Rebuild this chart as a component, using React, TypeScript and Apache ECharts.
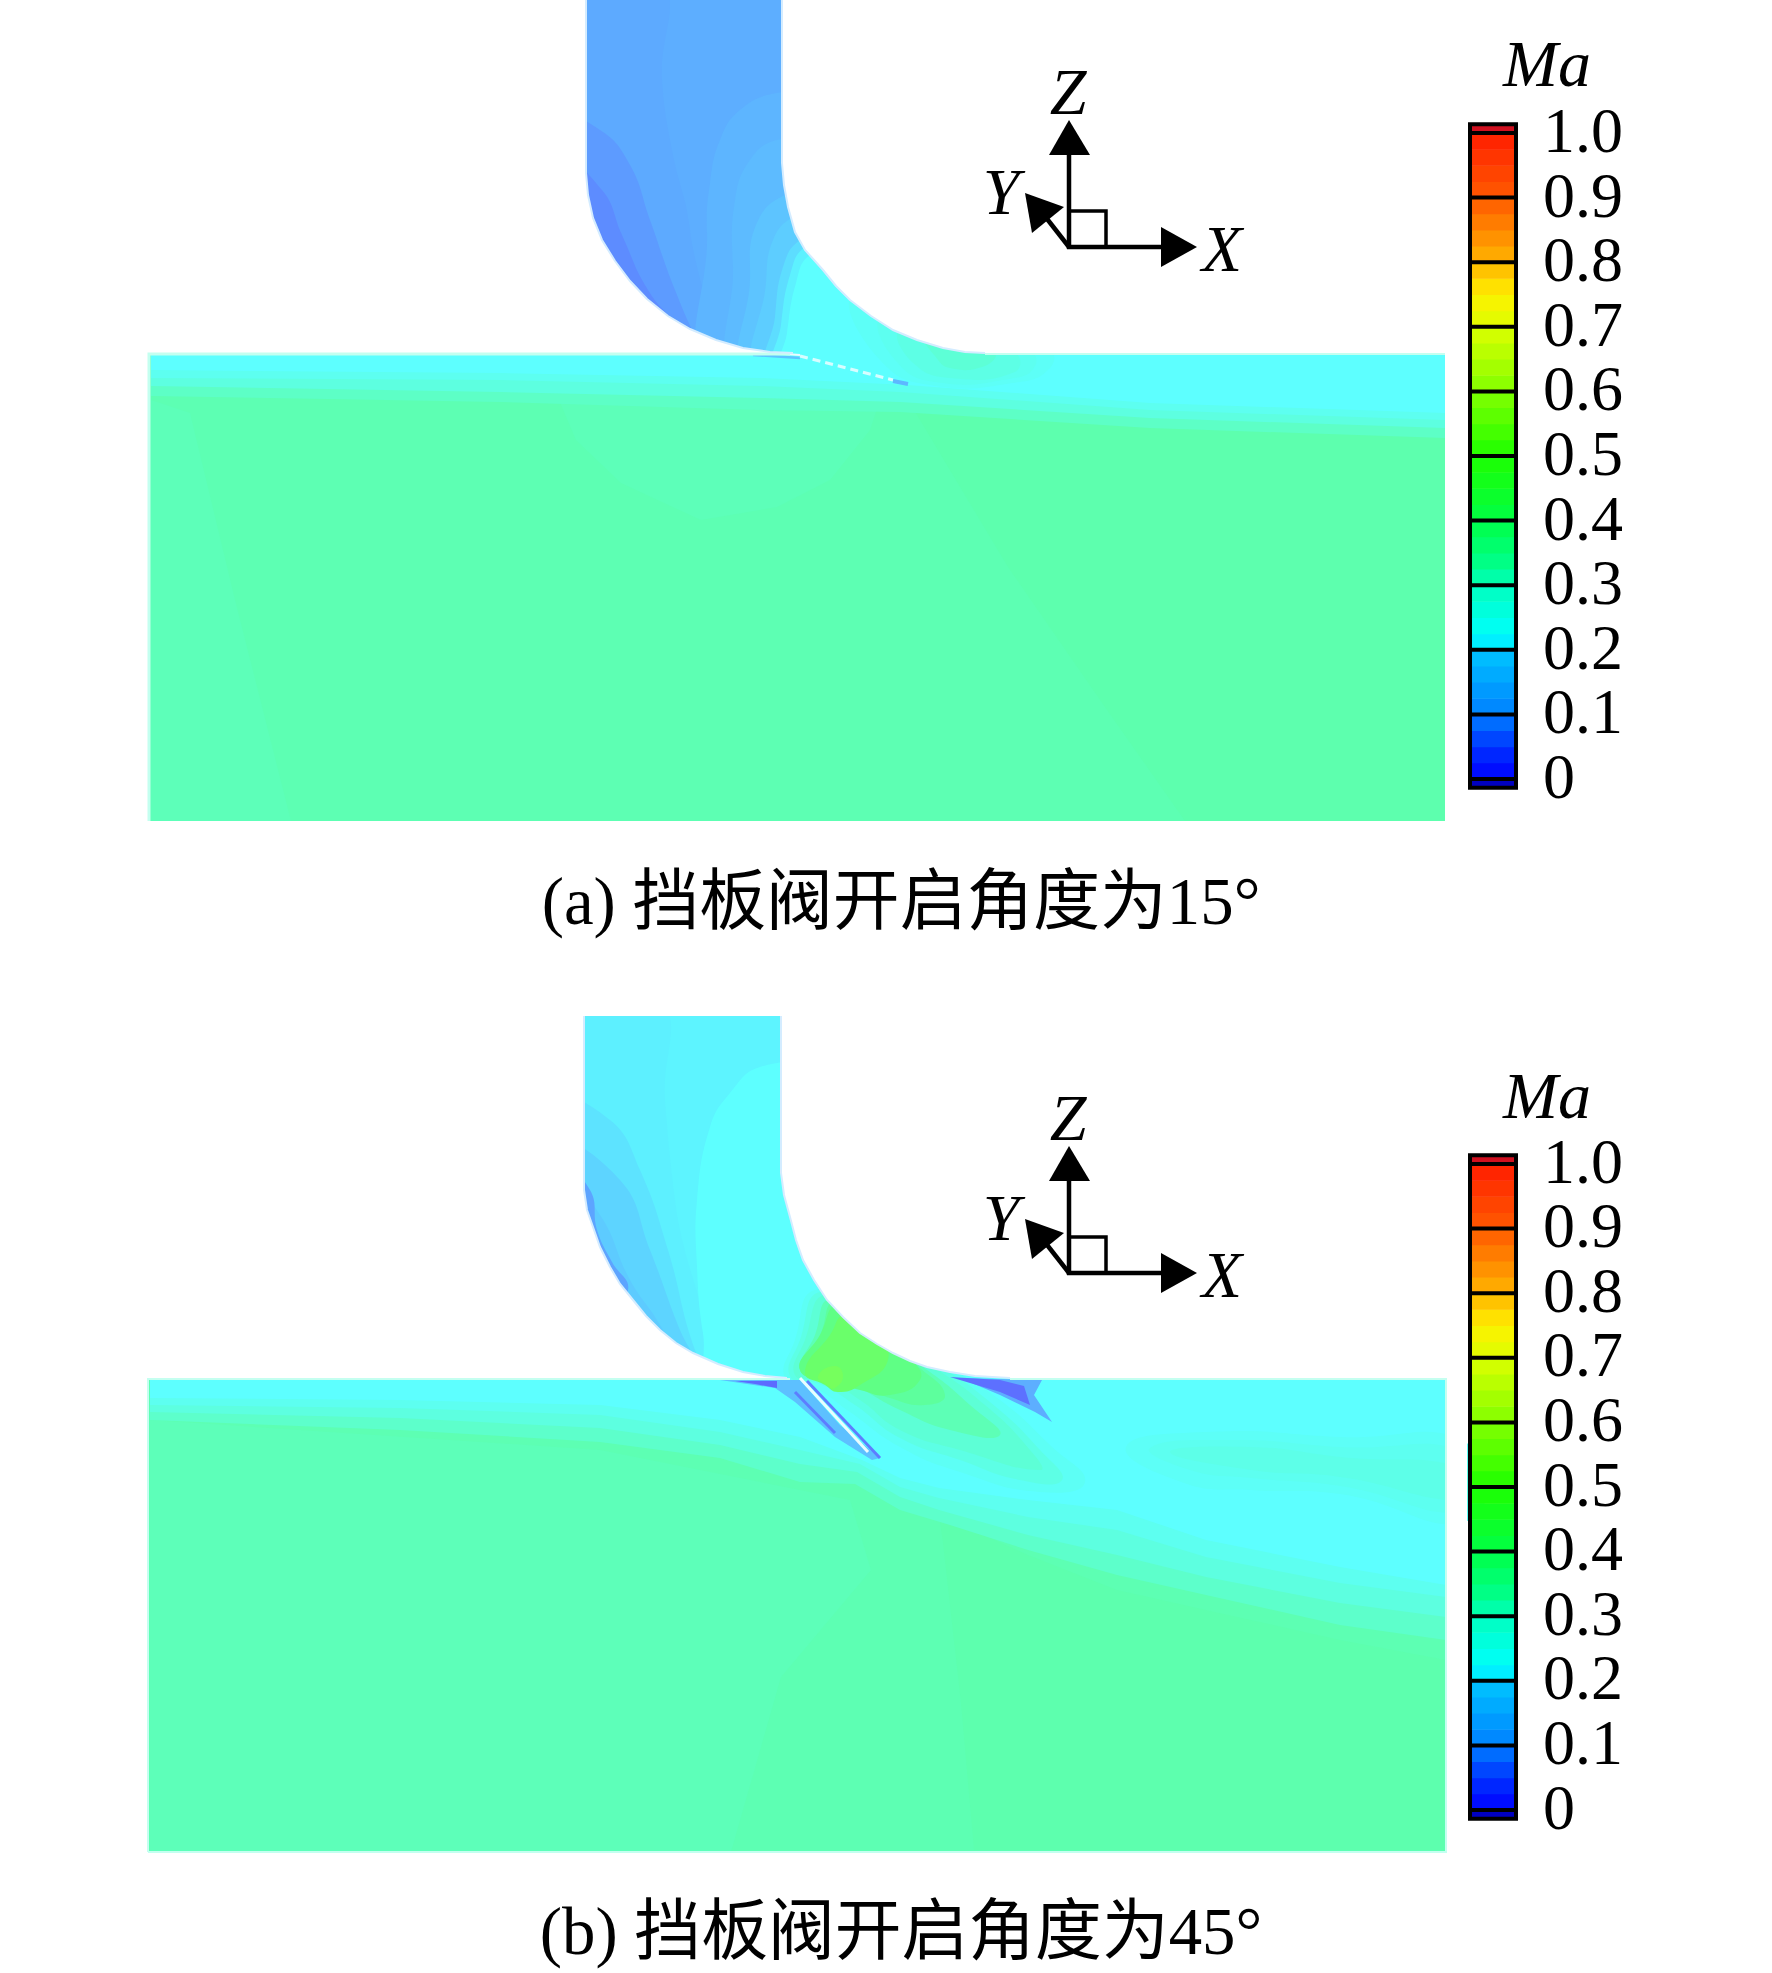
import React, { useEffect, useRef } from "react";
import * as echarts from "echarts";

type Pt = [number, number];
type Band = [number, Pt[]];

// ---------- tick labels and colour scale ----------
const maTickValues = [0, 0.1, 0.2, 0.3, 0.4, 0.5, 0.6, 0.7, 0.8, 0.9, 1.0];
const maTickLabels = ["0", "0.1", "0.2", "0.3", "0.4", "0.5", "0.6", "0.7", "0.8", "0.9", "1.0"];
const rampStops: [number, number, number, number][] = [
  [0, 0, 0, 255], [0.05, 0, 50, 255], [0.1, 0, 128, 255], [0.19, 0, 190, 255], [0.22, 0, 255, 255],
  [0.3, 0, 255, 190], [0.33, 0, 255, 140], [0.4, 0, 255, 70], [0.5, 30, 255, 0], [0.6, 130, 255, 0],
  [0.7, 220, 255, 0], [0.75, 255, 240, 0], [0.8, 255, 180, 0], [0.9, 255, 90, 0], [1, 255, 30, 0],
];
const barCellEdges = [
  0, 0.025, 0.05, 0.075, 0.1, 0.125, 0.15, 0.175, 0.2, 0.225, 0.25, 0.275, 0.3, 0.325, 0.35, 0.375, 0.4, 0.425,
  0.45, 0.475, 0.5, 0.525, 0.55, 0.575, 0.6, 0.625, 0.65, 0.675, 0.7, 0.725, 0.75, 0.775, 0.8, 0.825, 0.85, 0.875,
  0.9, 0.925, 0.95, 0.975, 1,
];
const barOverUnder: [number, number, string][] = [
  [-0.0135, 0, "#0000c0"],
  [1, 1.0135, "#d01020"],
];

// ---------- panel (a): valve at 15 degrees ----------
const ductLeftA: Pt[] = [[586, 0], [586, 173], [588, 195], [593, 218], [602, 240], [615, 261], [630, 281], [647, 299], [668, 316], [690, 329], [716, 340], [743, 348], [770, 352], [793, 353]];
const ductRightA: Pt[] = [[782, 0], [782, 163], [784, 185], [788, 207], [795, 232], [805, 250], [823, 270], [836, 286], [850, 300], [871, 316], [893, 330], [917, 340], [943, 348], [965, 352], [985, 353]];
const ductBaseA: Band[] = [[0.1, [[570, 0], [800, 0], [800, 356], [570, 356]]]];
const ductBandsA: Band[] = [
  [0.096, [[560, -20], [660, -20], [662, 80], [672, 150], [690, 230], [700, 375], [560, 375]]],
  [0.08, [[560, 120], [600, 130], [630, 165], [650, 220], [675, 290], [700, 345], [725, 385], [560, 385]]],
  [0.065, [[560, 160], [602, 190], [622, 235], [648, 290], [678, 325], [705, 352], [720, 385], [560, 385]]],
  [0.115, [[830, 93], [777, 93], [740, 110], [720, 140], [710, 183], [707, 233], [717, 375], [1000, 375], [1000, 93]]],
  [0.13, [[830, 140], [777, 140], [750, 160], [735, 200], [733, 267], [742, 375], [1000, 375], [1000, 140]]],
  [0.15, [[830, 190], [785, 195], [756, 225], [750, 280], [752, 375], [1000, 375], [1000, 190]]],
  [0.17, [[830, 205], [793, 217], [773, 240], [766, 283], [763, 375], [1000, 375], [1000, 205]]],
  [0.195, [[840, 225], [800, 240], [783, 267], [775, 317], [771, 375], [1000, 375], [1000, 225]]],
  [0.21, [[850, 232], [805, 247], [790, 275], [781, 325], [777, 375], [1000, 375], [1000, 232]]],
  [0.22, [[860, 238], [810, 255], [796, 283], [787, 333], [783, 375], [1000, 375], [1000, 238]]],
];
const panelBaseA: Band[] = [[0.335, [[148, 354], [1445, 354], [1445, 821], [148, 821]]]];
const zonesA: Band[] = [
  [0.327, [[151, 400], [190, 413], [235, 600], [291, 821], [151, 821]]],
  [0.327, [[559, 400], [576, 440], [621, 483], [701, 520], [777, 507], [830, 480], [870, 430], [880, 400]]],
  [0.342, [[908, 400], [1008, 567], [1100, 700], [1185, 821], [1445, 821], [1445, 400]]],
];
const topBandsA: Band[] = [
  [0.315, [[151, 354], [1445, 354], [1445, 438], [1150, 428], [900, 412], [760, 410], [500, 402], [151, 396]]],
  [0.28, [[151, 354], [1445, 354], [1445, 428], [1150, 418], [900, 402], [760, 398], [500, 392], [151, 386]]],
  [0.25, [[151, 354], [1445, 354], [1445, 420], [1150, 410], [900, 392], [760, 386], [500, 380], [151, 378]]],
  [0.22, [[151, 354], [1445, 354], [1445, 413], [1150, 403], [907, 385], [760, 378], [500, 373], [151, 370]]],
];
const jetBandsA: Band[] = [
  [0.235, [[850, 300], [900, 328], [960, 348], [1050, 352], [1050, 368], [1020, 382], [930, 385], [880, 360]]],
  [0.25, [[880, 320], [930, 342], [1030, 352], [1035, 366], [1015, 378], [935, 382], [895, 360]]],
  [0.27, [[900, 332], [960, 350], [1015, 353], [1015, 372], [950, 378], [912, 362]]],
  [0.3, [[925, 338], [965, 350], [995, 353], [985, 366], [950, 368], [935, 356]]],
];

// ---------- panel (b): valve at 45 degrees ----------
const ductLeftB: Pt[] = [[584, 1016], [584, 1190], [587, 1210], [593, 1227], [600, 1247], [610, 1267], [620, 1284], [633, 1300], [646, 1316], [660, 1330], [676, 1343], [693, 1353], [718, 1364], [743, 1372], [765, 1376], [787, 1378]];
const ductRightB: Pt[] = [[781, 1016], [781, 1173], [784, 1195], [790, 1217], [796, 1240], [803, 1260], [814, 1280], [827, 1300], [843, 1317], [860, 1333], [877, 1344], [893, 1353], [910, 1361], [927, 1367], [950, 1372], [975, 1376], [1010, 1378]];
const ductBaseB: Band[] = [[0.212, [[570, 1016], [800, 1016], [800, 1380], [570, 1380]]]];
const ductBandsB: Band[] = [
  [0.209, [[560, 1000], [660, 1000], [665, 1100], [675, 1200], [700, 1395], [560, 1395]]],
  [0.2, [[560, 1105], [610, 1120], [640, 1170], [668, 1250], [695, 1350], [725, 1410], [560, 1410]]],
  [0.185, [[560, 1150], [620, 1180], [650, 1250], [680, 1330], [715, 1410], [560, 1410]]],
  [0.165, [[560, 1175], [600, 1215], [630, 1280], [660, 1325], [705, 1410], [560, 1410]]],
  [0.09, [[560, 1165], [590, 1190], [597, 1230], [612, 1262], [628, 1290], [600, 1330], [560, 1395]]],
  [0.22, [[830, 1062], [760, 1067], [730, 1093], [710, 1127], [697, 1200], [697, 1267], [703, 1333], [717, 1395], [1010, 1395], [1010, 1062]]],
];
const panelBaseB: Band[] = [[0.335, [[147, 1378], [1446, 1378], [1446, 1852], [147, 1852]]]];
const zonesB: Band[] = [
  [0.327, [[150, 1420], [600, 1450], [850, 1500], [871, 1570], [781, 1677], [731, 1852], [150, 1852]]],
  [0.342, [[939, 1515], [1028, 1555], [1117, 1590], [1206, 1610], [1340, 1640], [1446, 1660], [1446, 1850], [974, 1850], [961, 1703], [943, 1543]]],
];
const topBandsB: Band[] = [
  [0.31, [[150, 1378], [1446, 1378], [1446, 1640], [1340, 1625], [1206, 1595], [1117, 1575], [1028, 1550], [950, 1525], [900, 1510], [855, 1484], [800, 1482], [720, 1458], [600, 1442], [400, 1430], [150, 1420]]],
  [0.28, [[150, 1378], [1446, 1378], [1446, 1617], [1340, 1603], [1206, 1577], [1117, 1555], [1028, 1535], [939, 1510], [900, 1497], [857, 1472], [800, 1464], [720, 1445], [600, 1428], [400, 1418], [150, 1412]]],
  [0.25, [[150, 1378], [1446, 1378], [1446, 1597], [1340, 1583], [1206, 1557], [1117, 1530], [1028, 1517], [939, 1498], [900, 1487], [860, 1464], [800, 1450], [720, 1432], [600, 1415], [400, 1408], [150, 1405]]],
  [0.22, [[150, 1378], [1446, 1378], [1446, 1585], [1340, 1567], [1206, 1540], [1117, 1510], [1028, 1500], [939, 1488], [900, 1478], [862, 1460], [800, 1437], [720, 1420], [600, 1405], [400, 1400], [150, 1398]]],
];
const lobesB: Band[] = [
  [0.235, [[1126, 1447], [1206, 1432], [1340, 1437], [1470, 1445], [1470, 1520], [1340, 1494], [1251, 1490], [1184, 1483]]],
  [0.25, [[1150, 1448], [1230, 1440], [1340, 1447], [1470, 1455], [1470, 1510], [1340, 1486], [1251, 1478], [1190, 1470]]],
  [0.265, [[1170, 1452], [1251, 1447], [1340, 1457], [1470, 1470], [1470, 1500], [1340, 1477], [1251, 1470]]],
];
const jetBandsB: Band[] = [
  [0.24, [[785, 1378], [795, 1340], [815, 1290], [870, 1320], [940, 1362], [1000, 1400], [1050, 1445], [1085, 1482], [1040, 1492], [960, 1472], [900, 1447], [850, 1412], [815, 1388]]],
  [0.27, [[790, 1376], [800, 1340], [820, 1292], [870, 1325], [935, 1363], [990, 1402], [1040, 1450], [1062, 1480], [1020, 1480], [960, 1460], [900, 1438], [855, 1405], [820, 1384]]],
  [0.3, [[795, 1375], [805, 1340], [825, 1295], [870, 1330], [930, 1365], [985, 1405], [1030, 1450], [1040, 1470], [960, 1450], [900, 1430], [860, 1400], [825, 1380]]],
  [0.33, [[803, 1368], [815, 1335], [830, 1300], [880, 1340], [930, 1372], [970, 1405], [1000, 1435], [950, 1430], [900, 1410], [860, 1388], [835, 1375]]],
  [0.37, [[800, 1370], [820, 1335], [835, 1302], [880, 1337], [920, 1368], [945, 1395], [925, 1405], [890, 1398], [860, 1385], [835, 1378]]],
  [0.41, [[800, 1370], [820, 1335], [838, 1305], [880, 1335], [912, 1360], [920, 1380], [890, 1395], [860, 1390], [835, 1382]]],
  [0.47, [[805, 1372], [830, 1335], [845, 1315], [875, 1335], [888, 1360], [860, 1385], [838, 1392], [825, 1385]]],
  [0.51, [[818, 1376], [835, 1366], [843, 1376], [835, 1388], [828, 1386]]],
];
const vortexBandsB: Band[] = [
  [0.14, [[720, 1380], [800, 1380], [840, 1425], [880, 1458], [872, 1460], [835, 1437], [795, 1402], [775, 1388]]],
  [0.02, [[735, 1381], [777, 1381], [777, 1388], [755, 1384]]],
  [0.1, [[960, 1378], [1042, 1380], [1034, 1395], [1052, 1422], [1035, 1412], [1000, 1395]]],
  [0.03, [[950, 1377], [1000, 1380], [1024, 1386], [1030, 1405], [1000, 1392]]],
];

// line marks: [Ma, or -1 for the white gap], width, dash, vertices
type Stroke = [number, number, number[] | null, Pt[]];
const valveLinesA: Stroke[] = [
  [0.15, 2.5, null, [[753, 355], [800, 358]]],
  [-1, 2, null, [[753, 352], [800, 355]]],
  [-4, 3, [8, 5], [[800, 356], [893, 380]]],
  [0.12, 4, null, [[893, 381], [908, 384]]],
];
const valveLinesB: Stroke[] = [
  [0.05, 3, null, [[795, 1392], [835, 1433]]],
  [0.05, 3, null, [[807, 1381], [880, 1458]]],
  [-1, 3, null, [[800, 1378], [868, 1452]]],
];
const edgeLines: Stroke[] = [
  [-2, 3, null, [[149, 821], [149, 354], [790, 354]]],
  [-2, 2, null, [[985, 354], [1445, 354]]],
  [-2, 2, null, [[148, 1852], [148, 1379], [790, 1379]]],
  [-2, 2, null, [[1010, 1379], [1446, 1379], [1446, 1852], [148, 1852]]],
  [-3, 2, null, ductLeftA],
  [-3, 2, null, ductRightA],
  [-3, 2, null, ductLeftB],
  [-3, 2, null, ductRightB],
];

// ---------- helpers ----------
function ramp(ma: number): number[] {
  for (let i = 1; i < rampStops.length; i++) {
    const a = rampStops[i - 1];
    const b = rampStops[i];
    if (ma <= b[0]) {
      const t = (ma - a[0]) / (b[0] - a[0]);
      return [a[1] + (b[1] - a[1]) * t, a[2] + (b[2] - a[2]) * t, a[3] + (b[3] - a[3]) * t];
    }
  }
  const l = rampStops[rampStops.length - 1];
  return [l[1], l[2], l[3]];
}
const css = (c: number[]) => `rgb(${c.map((v) => Math.round(v)).join(",")})`;
const barColor = (ma: number) => css(ramp(ma));
const fieldColor = (ma: number) => css(ramp(ma).map((v) => v * 0.635 + 255 * 0.365));

const maskRegions: Pt[][] = [
  [[0, 0], ...ductLeftA, [0, 353]],
  [...ductRightA, [1772, 353], [1772, 0]],
  [[0, 1016], ...ductLeftB, [0, 1378]],
  [...ductRightB, [1772, 1378], [1772, 1016]],
  [[0, 960], [1772, 960], [1772, 1016], [0, 1016]],
  [[1447, 350], [1467, 350], [1467, 1860], [1447, 1860]],
];

type Layer =
  | { kind: "fill"; color: string; pts: Pt[]; smooth: number }
  | { kind: "line"; color: string; width: number; dash: number[] | null; pts: Pt[] };
const fills = (bands: Band[], smooth = 0): Layer[] =>
  bands.map(([ma, pts]) => ({ kind: "fill", color: fieldColor(ma), pts, smooth }));
const lineColor = (m: number) =>
  m === -1 ? "#eafcff" : m === -2 ? "#c4fff0" : m === -3 ? "#d4ecff" : m === -4 ? "#d8fdff" : fieldColor(m);
const lines = (list: Stroke[]): Layer[] =>
  list.map(([m, width, dash, pts]) => ({ kind: "line", color: lineColor(m), width, dash, pts }));
const masks = (list: Pt[][]): Layer[] => list.map((pts) => ({ kind: "fill", color: "#ffffff", pts, smooth: 0 }));

const layers: Layer[] = [
  ...fills(ductBaseA), ...fills(ductBandsA, 0.45), ...fills(panelBaseA), ...fills(zonesA), ...fills(topBandsA), ...fills(jetBandsA, 0.5),
  ...lines(valveLinesA),
  ...fills(ductBaseB), ...fills(ductBandsB, 0.45), ...fills(panelBaseB), ...fills(zonesB), ...fills(topBandsB), ...fills(lobesB, 0.5), ...fills(jetBandsB, 0.5),
  ...fills(vortexBandsB), ...lines(valveLinesB),
  ...masks(maskRegions),
  ...lines(edgeLines),
];

const SERIF = '"Liberation Serif"';
const CAPTION_FONT = '"Liberation Serif","Noto Sans CJK SC"';
const BLACK = "#000000";
const TOP = 100;

function triad(dy: number, dyMa: number): any {
  const stroke = { stroke: BLACK, lineWidth: 4.5, fill: null };
  const arrow = (points: number[][]) => ({ type: "polygon", z: TOP, shape: { points }, style: { fill: BLACK } });
  const label = (text: string, x: number, y: number) => ({
    type: "text",
    z: TOP,
    style: { text, x, y, fontFamily: SERIF, fontStyle: "italic", fontSize: 66, fill: BLACK, align: "center", verticalAlign: "middle" },
  });
  return [
    {
      type: "group",
      x: 0,
      y: dy,
      z: TOP,
      children: [
        { type: "line", z: TOP, shape: { x1: 1069, y1: 249, x2: 1069, y2: 150 }, style: stroke },
        { type: "line", z: TOP, shape: { x1: 1067, y1: 247, x2: 1165, y2: 247 }, style: stroke },
        { type: "line", z: TOP, shape: { x1: 1069, y1: 247, x2: 1044, y2: 215 }, style: stroke },
        { type: "polyline", z: TOP, shape: { points: [[1069, 211], [1106, 211], [1106, 247]] }, style: { ...stroke, lineWidth: 3.5 } },
        arrow([[1069, 120], [1049, 155], [1090, 155]]),
        arrow([[1197, 247], [1161, 227], [1161, 267]]),
        arrow([[1025, 193], [1064, 207], [1032, 233]]),
        label("Z", 1068, 91),
        label("Y", 1001, 191),
        label("X", 1222, 248),
      ],
    },
    {
      type: "text",
      z: TOP,
      style: { text: "Ma", x: 1547, y: 63 + dyMa, fontFamily: SERIF, fontStyle: "italic", fontSize: 66, fill: BLACK, align: "center", verticalAlign: "middle" },
    },
  ];
}
const caption = (text: string, y: number) => ({
  type: "text",
  z: TOP,
  style: { text, x: 901, y, fontFamily: CAPTION_FONT, fontSize: 66.8, fill: BLACK, align: "center", verticalAlign: "middle" },
});

const barTops = [133, 1164];
const barGrid = (top: number) => ({ left: 1468, width: 50, top, height: 646, containLabel: false });
const barY = (gridIndex: number) => ({
  type: "value",
  gridIndex,
  min: 0,
  max: 1,
  interval: 0.1,
  position: "right",
  show: false,
});
const labelY = (gridIndex: number) => ({
  type: "value",
  gridIndex,
  min: 0,
  max: 1,
  interval: 0.1,
  position: "right",
  z: 20,
  axisLine: { show: false },
  splitLine: { show: false },
  axisTick: { show: false },
  axisLabel: {
    show: true,
    showMinLabel: true,
    showMaxLabel: true,
    hideOverlap: false,
    margin: 25,
    color: BLACK,
    fontFamily: SERIF,
    fontSize: 64,
    formatter: (v: number) => maTickLabels[maTickValues.findIndex((t) => Math.abs(t - v) < 1e-6)] ?? "",
  },
});
const barX = (gridIndex: number) => ({ type: "value", gridIndex, min: 0, max: 1, show: false });

const barCells: [number, number, string][] = [
  ...barCellEdges.slice(0, -1).map((e, i): [number, number, string] => [e, barCellEdges[i + 1], barColor((e + barCellEdges[i + 1]) / 2)]),
  ...barOverUnder,
];

function barSeries(axisIndex: number): any[] {
  const base = { type: "custom", coordinateSystem: "cartesian2d", xAxisIndex: axisIndex, yAxisIndex: axisIndex, clip: false, silent: true };
  return [
    {
      ...base,
      z: 2,
      data: barCells.map((_, i) => [0, i]),
      encode: { x: 0 },
      renderItem: (p: any, api: any) => {
        const c = barCells[p.dataIndex];
        const a = api.coord([0, c[1]]);
        const b = api.coord([1, c[0]]);
        return { type: "rect", shape: { x: a[0], y: a[1], width: b[0] - a[0], height: b[1] - a[1] + 0.5 }, style: { fill: c[2] } };
      },
    },
    {
      ...base,
      z: 3,
      data: maTickValues.map((v) => [0, v]),
      encode: { x: 0, y: 1 },
      renderItem: (p: any, api: any) => {
        const v = maTickValues[p.dataIndex];
        const a = api.coord([0, v]);
        const b = api.coord([1, v]);
        return { type: "line", shape: { x1: a[0], y1: a[1], x2: b[0], y2: b[1] }, style: { stroke: BLACK, lineWidth: 4 } };
      },
    },
    {
      ...base,
      z: 4,
      data: [[0, 0]],
      encode: { x: 0 },
      renderItem: (_: any, api: any) => {
        const a = api.coord([0, barOverUnder[1][1]]);
        const b = api.coord([1, barOverUnder[0][0]]);
        return {
          type: "rect",
          shape: { x: a[0] + 2, y: a[1], width: b[0] - a[0] - 4, height: b[1] - a[1] },
          style: { fill: null, stroke: BLACK, lineWidth: 4 },
        };
      },
    },
  ];
}

export default function App() {
  const ref = useRef<HTMLDivElement>(null);
  useEffect(() => {
    const chart = echarts.init(ref.current as HTMLDivElement, undefined, { renderer: "svg" });
    chart.setOption({
      animation: false,
      backgroundColor: "#ffffff",
      grid: [
        { left: 0, top: 0, width: 1772, height: 1973 },
        barGrid(barTops[0]),
        barGrid(barTops[1]),
        barGrid(barTops[0] - 2.5),
        barGrid(barTops[1] - 3),
      ],
      xAxis: [{ type: "value", gridIndex: 0, min: 0, max: 1772, show: false }, barX(1), barX(2), barX(3), barX(4)],
      yAxis: [{ type: "value", gridIndex: 0, min: 0, max: 1973, inverse: true, show: false }, barY(1), barY(2), labelY(3), labelY(4)],
      series: [
        {
          type: "custom",
          coordinateSystem: "cartesian2d",
          xAxisIndex: 0,
          yAxisIndex: 0,
          clip: false,
          silent: true,
          z: 1,
          data: layers.map((_, i) => [i, 0]),
          encode: { x: 0, y: 1 },
          renderItem: (p: any, api: any) => {
            const l = layers[p.dataIndex];
            const points = l.pts.map((q) => api.coord(q));
            if (l.kind === "fill") return { type: "polygon", shape: { points, smooth: l.smooth }, style: { fill: l.color } };
            return { type: "polyline", shape: { points }, style: { fill: null, stroke: l.color, lineWidth: l.width, lineDash: l.dash ?? undefined } };
          },
        },
        ...barSeries(1),
        ...barSeries(2),
      ],
      graphic: [
        ...triad(0, 0),
        ...triad(1026, 1032),
        caption("(a) 挡板阀开启角度为15°", 901),
        caption("(b) 挡板阀开启角度为45°", 1931),
      ],
    });
    return () => chart.dispose();
  }, []);
  return <div ref={ref} style={{ position: "absolute", left: 0, top: 0, width: 1772, height: 1973 }} />;
}
